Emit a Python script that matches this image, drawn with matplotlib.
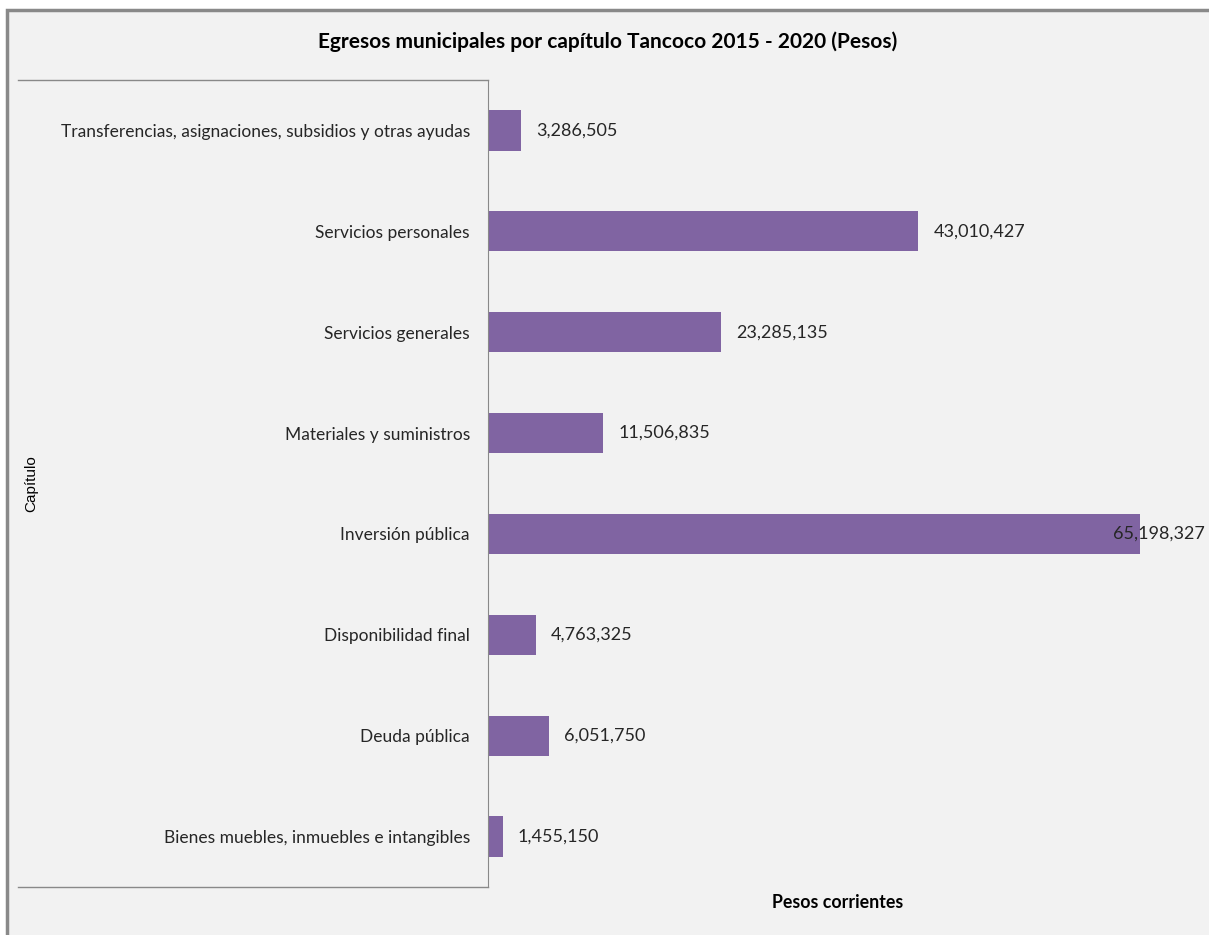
import matplotlib.pyplot as plt
from matplotlib.patches import Rectangle
from matplotlib.lines import Line2D

capitulos = ["Bienes muebles, inmuebles e intangibles", "Deuda pública",
             "Disponibilidad final", "Inversión pública", "Materiales y suministros",
             "Servicios generales", "Servicios personales",
             "Transferencias, asignaciones, subsidios y otras ayudas"]
montos = [1455150, 6051750, 4763325, 65198327, 11506835, 23285135, 43010427, 3286505]

W, H = 1209, 935
fig = plt.figure(figsize=(W / 100, H / 100), dpi=100)
fig.patch.set_facecolor("white")
fig.patches.append(Rectangle((7 / W, -0.1), 1.2, 1.1 - 10 / H, transform=fig.transFigure,
                             facecolor="#F2F2F2", edgecolor="#898989", lw=2.5, zorder=-1))

ax = fig.add_axes([488 / W, 1 - 887 / H, (W - 488) / W, (887 - 80) / H])
ax.set_facecolor("none")
ax.barh(range(len(capitulos)), montos, height=0.4, color="#8064A2")
xmax = max(montos) * (W - 488) / (1140 - 488)
ax.set_xlim(0, xmax)
ax.set_ylim(-0.5, len(capitulos) - 0.5)
ax.set_yticks(range(len(capitulos)))
ax.set_yticklabels(capitulos, fontsize=12.5, color="#262626", family="Lato")
ax.tick_params(axis="y", length=0, pad=13)
ax.set_xticks([])
for s in ["top", "right", "bottom"]:
    ax.spines[s].set_visible(False)
ax.spines["left"].set_color("#898989")

# caja de etiquetas
for yy in [0, 1]:
    ax.add_line(Line2D([-(488 - 18) / (W - 488), 0], [yy, yy], transform=ax.transAxes,
                       color="#898989", lw=1, clip_on=False))

for i, v in enumerate(montos):
    txt = f"{v:,}"
    if v == max(montos):
        ax.annotate(txt, (1, i), xycoords=("axes fraction", "data"), xytext=(-3, 0),
                    textcoords="offset points", ha="right", va="center",
                    fontsize=13, family="Lato", color="#262626")
    else:
        ax.annotate(txt, (v, i), xytext=(11, 0), textcoords="offset points",
                    ha="left", va="center", fontsize=13, family="Lato", color="#262626")

fig.text(608 / W, 1 - 42 / H, "Egresos municipales por capítulo Tancoco 2015 - 2020 (Pesos)",
         ha="center", va="center", fontsize=15, fontweight="bold", family="Lato")
fig.text(838 / W, 1 - 903 / H, "Pesos corrientes", ha="center", va="center",
         fontsize=12.8, fontweight="bold", family="Lato")
fig.text(31 / W, 1 - 484 / H, "Capítulo", ha="center", va="center", rotation=90,
         fontsize=11, family="Liberation Sans")

fig.savefig("out.png", dpi=100)
